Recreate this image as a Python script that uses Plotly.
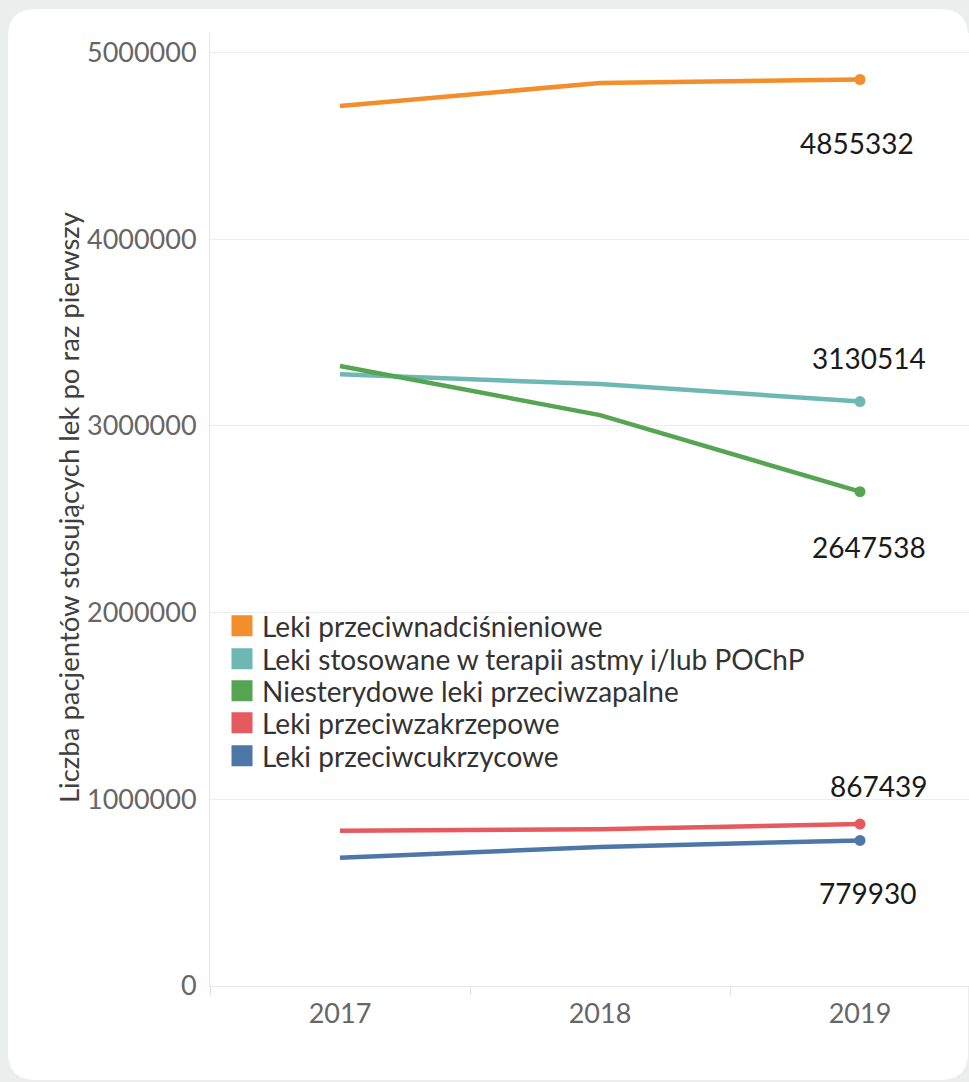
import plotly.graph_objects as go

years = ["2017", "2018", "2019"]
series_names = [
    "Leki przeciwnadciśnieniowe",
    "Leki stosowane w terapii astmy i/lub POChP",
    "Niesterydowe leki przeciwzapalne",
    "Leki przeciwzakrzepowe",
    "Leki przeciwcukrzycowe",
]
hypertension = [4713000, 4837000, 4855332]
asthma_copd = [3276000, 3224000, 3130514]
nsaids = [3321000, 3058000, 2647538]
anticoag = [831000, 840000, 867439]
antidiabetic = [687000, 745000, 779930]
series_values = [hypertension, asthma_copd, nsaids, anticoag, antidiabetic]
colors = ["#f28e2b", "#6db8b2", "#55a552", "#e45a5e", "#4d77a6"]
y_ticks = [0, 1000000, 2000000, 3000000, 4000000, 5000000]
y_tick_text = ["0", "1000000", "2000000", "3000000", "4000000", "5000000"]
y_title = "Liczba pacjentów stosujących lek po raz pierwszy"
# label offsets (px) relative to the 2019 point
label_shift = [(-3, -63), (9, 44), (9, -55), (18, 38), (7, -53)]
# legend entry centres (px from top)
legend_centres = [626, 659, 691, 723, 756]

W, H = 969, 1082
L, T, B, R = 210, 33, 96, 0
pw, ph = W - L - R, H - T - B

FONT = "Lato"


def px_x(p):
    return (p - L) / pw


def px_y(p):
    return (H - B - p) / ph


fig = go.Figure()
for name, vals, c in zip(series_names, series_values, colors):
    fig.add_trace(go.Scatter(
        x=years, y=vals, mode="lines+markers", name=name,
        line=dict(color=c, width=4.5),
        marker=dict(size=[0, 0, 11], color=c, opacity=1, line=dict(width=0)),
        showlegend=False, hoverinfo="skip", cliponaxis=False,
    ))

legend_layouts = {}
for i, (name, c, cy) in enumerate(zip(series_names, colors, legend_centres)):
    key = "legend" if i == 0 else f"legend{i + 1}"
    fig.add_trace(go.Scatter(
        x=[None], y=[None], mode="markers", name=name, legend=key,
        marker=dict(symbol="square", size=16, color=c, line=dict(color=c, width=5)),
        showlegend=True,
    ))
    legend_layouts[key] = dict(
        x=px_x(222), y=px_y(cy), xanchor="left", yanchor="middle",
        bgcolor="rgba(0,0,0,0)", font=dict(family=FONT, size=28, color="#333333"),
        itemclick=False, borderwidth=0,
    )

for vals, (dx, dy) in zip(series_values, label_shift):
    fig.add_annotation(
        x=len(years) - 1, y=vals[-1], xref="x", yref="y",
        text=str(vals[-1]), showarrow=False,
        xshift=dx, yshift=dy, font=dict(family=FONT, size=28, color="#1a1a1a"),
    )

fig.add_annotation(
    x=px_x(68), y=px_y(508), xref="paper", yref="paper", text=y_title,
    textangle=-90, showarrow=False, xanchor="center", yanchor="middle",
    font=dict(family=FONT, size=27.5, color="#404040"),
)

# white rounded panel
x0, x1, y0, y1, r = 8, 968, 9, 1080, 28
path = (
    f"M {px_x(x0 + r)} {px_y(y0)} L {px_x(x1 - r)} {px_y(y0)} "
    f"Q {px_x(x1)} {px_y(y0)} {px_x(x1)} {px_y(y0 + r)} "
    f"L {px_x(x1)} {px_y(y1 - r)} Q {px_x(x1)} {px_y(y1)} {px_x(x1 - r)} {px_y(y1)} "
    f"L {px_x(x0 + r)} {px_y(y1)} Q {px_x(x0)} {px_y(y1)} {px_x(x0)} {px_y(y1 - r)} "
    f"L {px_x(x0)} {px_y(y0 + r)} Q {px_x(x0)} {px_y(y0)} {px_x(x0 + r)} {px_y(y0)} Z"
)
fig.add_shape(type="path", path=path, xref="paper", yref="paper",
              fillcolor="white", line=dict(width=0), layer="below")

fig.update_layout(
    width=W, height=H,
    margin=dict(l=L, r=R, t=T, b=B, pad=0),
    paper_bgcolor="#ebeeed", plot_bgcolor="white",
    font=dict(family=FONT, color="#666666"),
    showlegend=True,
    xaxis=dict(
        type="category", range=[-0.5, -0.5 + pw / 260.0],
        showgrid=False, zeroline=False, showline=True, linecolor="#e6e6e6", linewidth=1,
        tickson="boundaries", ticks="outside", ticklen=8, tickcolor="#e0e0e0",
        tickfont=dict(family=FONT, size=27, color="#666666"),
        ticklabelstandoff=4,
    ),
    yaxis=dict(
        range=[0, ph / 186.7 * 1e6], tickvals=y_ticks, ticktext=y_tick_text,
        showgrid=True, gridcolor="#ececec", gridwidth=1, zeroline=False,
        showline=True, linecolor="#e6e6e6", linewidth=1, ticks="",
        tickfont=dict(family=FONT, size=27, color="#666666"),
        ticklabelstandoff=7,
    ),
    **legend_layouts,
)

fig.write_html(
    "out.html",
    config={"displayModeBar": False},
    post_script="document.body.style.margin='0';document.body.style.overflow='hidden';"
                "document.body.style.background='#ebeeed';",
)
